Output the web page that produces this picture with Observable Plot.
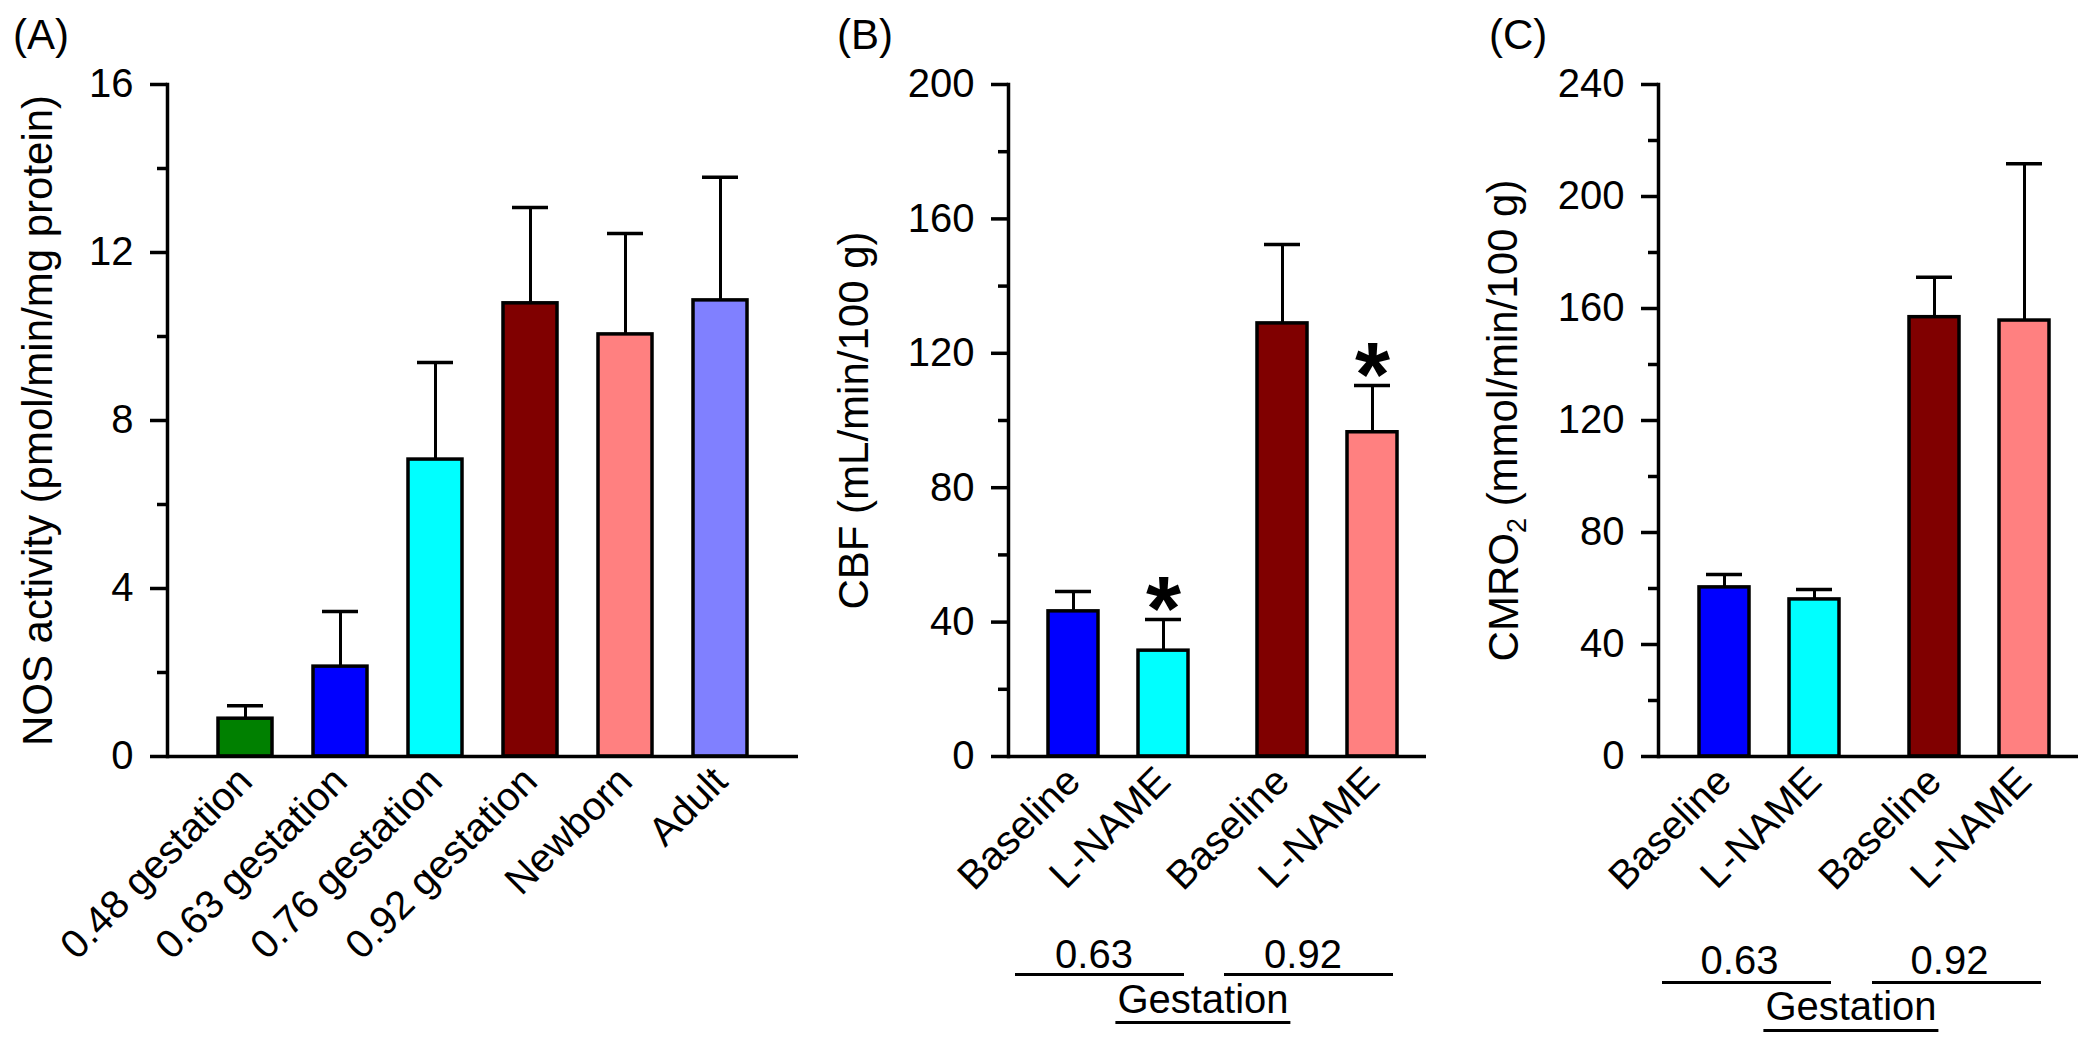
<!DOCTYPE html>
<html><head><meta charset="utf-8">
<script src="https://cdn.jsdelivr.net/npm/d3@7"></script>
<script src="https://cdn.jsdelivr.net/npm/@observablehq/plot@0.6"></script>
<style>
html,body{margin:0;padding:0;background:#fff;}
#root{position:relative;width:2100px;height:1048px;overflow:hidden;font-family:"Liberation Sans",Arial,Helvetica,sans-serif;color:#000;}
.panel{position:absolute;top:0;}
.plabel{position:absolute;font-size:42px;line-height:42px;white-space:nowrap;}
.gest{position:absolute;font-size:40px;line-height:40px;white-space:nowrap;border-bottom:3px solid #000;transform:translateX(-50%);padding:0 2px;}
</style></head>
<body><div id="root"></div>
<script>
// ---------- data ----------
// Panel A
const stagesA = ["0.48 gestation", "0.63 gestation", "0.76 gestation", "0.92 gestation", "Newborn", "Adult"];
const nosMean = [0.90, 2.14, 7.07, 10.79, 10.05, 10.86];
const nosSD   = [0.31, 1.31, 2.31, 2.28, 2.40, 2.93];
const colorsA = ["#008000", "#0000ff", "#00ffff", "#800000", "#ff8080", "#8080ff"];
const yTicksA = [0, 4, 8, 12, 16];
const yMinorA = [2, 6, 10, 14];

// Panels B and C
const conditions = ["Baseline", "L-NAME"];
const gestations = ["0.63", "0.92"];
const colorsBC = ["#0000ff", "#00ffff", "#800000", "#ff8080"];
const cbfMean = [43.2, 31.5, 128.9, 96.5];
const cbfSD   = [5.9, 9.3, 23.5, 13.9];
const cbfSignificant = [false, true, false, true];
const yTicksB = [0, 40, 80, 120, 160, 200];
const yMinorB = [20, 60, 100, 140, 180];
const cmroMean = [60.4, 56.1, 156.9, 155.7];
const cmroSD   = [4.6, 3.5, 14.3, 56.0];
const yTicksC = [0, 40, 80, 120, 160, 200, 240];
const yMinorC = [20, 60, 100, 140, 180, 220];

const FONT = '"Liberation Sans", Arial, Helvetica, sans-serif';
const root = document.getElementById("root");

function place(svg, left) {
  const w = document.createElement("div");
  w.className = "panel";
  w.style.left = left + "px";
  w.appendChild(svg);
  root.appendChild(w);
}
function styleLabel(svg, sub) {
  svg.querySelectorAll('[aria-label="y-axis label"] text').forEach(t => {
    t.setAttribute("font-size", 42);
    const s = t.textContent.replace(/\s*[\u2190-\u2193]\s*/g, "").trim();
    t.textContent = "";
    if (sub) {
      const i = s.indexOf("2");
      const a = document.createElementNS("http://www.w3.org/2000/svg", "tspan");
      a.textContent = s.slice(0, i);
      const b = document.createElementNS("http://www.w3.org/2000/svg", "tspan");
      b.textContent = "2"; b.setAttribute("font-size", 27); b.setAttribute("dy", "0.3em");
      const c = document.createElementNS("http://www.w3.org/2000/svg", "tspan");
      c.textContent = s.slice(i + 1); c.setAttribute("dy", "-0.22em");
      t.append(a, b, c);
    } else {
      t.textContent = s;
    }
  });
}

// ---------- Panel A ----------
const rowsA = stagesA.map((s, i) => ({stage: s, mean: nosMean[i], top: nosMean[i] + nosSD[i], color: colorsA[i]}));
const plotA = Plot.plot({
  width: 830, height: 1048,
  marginLeft: 167, marginRight: 32, marginTop: 84, marginBottom: 292,
  style: {fontFamily: FONT, fontSize: "40px", background: "transparent", overflow: "visible", maxWidth: "none", color: "#000"},
  x: {domain: stagesA, paddingInner: 0.427, paddingOuter: 0.527, axis: null},
  y: {domain: [0, 16], axis: null},
  color: {type: "identity"},
  marks: [
    Plot.ruleX(rowsA, {x: "stage", y1: "mean", y2: "top", strokeWidth: 3}),
    Plot.tickY(rowsA, {x: "stage", y: "top", insetLeft: 9, insetRight: 9, strokeWidth: 3.5}),
    Plot.barY(rowsA, {x: "stage", y: "mean", fill: "color", stroke: "#000", strokeWidth: 3.5}),
    Plot.ruleY([0], {strokeWidth: 3.5}),
    Plot.frame({anchor: "left", strokeWidth: 3.5}),
    Plot.axisY({ticks: yTicksA, tickSize: 17, tickPadding: 17, strokeWidth: 3.5, fontSize: 40,
      label: "NOS activity (pmol/min/mg protein)", labelAnchor: "center", labelOffset: 145, labelArrow: "none"}),
    Plot.axisY({ticks: yMinorA, tickSize: 10, text: null, label: null, strokeWidth: 3.5}),
    Plot.axisX({tickSize: 0, tickRotate: -45, tickPadding: 18, fontSize: 40, label: null})
  ]
});
styleLabel(plotA, false);
place(plotA, 0);

// ---------- Panels B and C ----------
function groupedPanel(o) {
  const rows = o.means.map((m, i) => ({
    gestation: gestations[Math.floor(i / 2)], condition: conditions[i % 2],
    mean: m, top: m + o.sds[i], color: colorsBC[i], star: o.signif ? o.signif[i] : false
  }));
  const svg = Plot.plot({
    width: o.width, height: 1048,
    marginLeft: o.marginLeft, marginRight: o.marginRight, marginTop: 84, marginBottom: 292,
    style: {fontFamily: FONT, fontSize: "40px", background: "transparent", overflow: "visible", maxWidth: "none", color: "#000"},
    fx: {domain: gestations, padding: 0, axis: null},
    x: {domain: conditions, paddingInner: 0.442, paddingOuter: 0.378, align: 0.585, axis: null},
    y: {domain: [0, o.yMax], axis: null},
    color: {type: "identity"},
    marks: [
      Plot.ruleX(rows, {fx: "gestation", x: "condition", y1: "mean", y2: "top", strokeWidth: 3}),
      Plot.tickY(rows, {fx: "gestation", x: "condition", y: "top", insetLeft: 7, insetRight: 7, strokeWidth: 3.5}),
      Plot.barY(rows, {fx: "gestation", x: "condition", y: "mean", fill: "color", stroke: "#000", strokeWidth: 3.5}),
      Plot.text(rows.filter(d => d.star), {fx: "gestation", x: "condition", y: "top", text: () => "*",
        fontSize: 90, fontWeight: "bold", lineAnchor: "middle", dy: -8}),
      Plot.ruleY([0], {strokeWidth: 3.5}),
      Plot.frame({anchor: "left", facetAnchor: "left", strokeWidth: 3.5}),
      Plot.axisY({ticks: o.ticks, tickSize: 17, tickPadding: 17, strokeWidth: 3.5, fontSize: 40,
        label: o.label, labelAnchor: "center", labelOffset: 170, labelArrow: "none"}),
      Plot.axisY({ticks: o.minor, tickSize: 10, text: null, label: null, strokeWidth: 3.5}),
      Plot.axisX({tickSize: 0, tickRotate: -45, tickPadding: 18, fontSize: 40, label: null}),
      Plot.text(gestations, {fx: d => d, text: d => d, frameAnchor: "bottom", lineAnchor: "bottom",
        dy: o.groupDy, dx: o.groupDx, fontSize: 40}),
      Plot.frame({anchor: "bottom", insetBottom: -o.lineDy, insetLeft: o.lineLeft, insetRight: o.lineRight, strokeWidth: 3})
    ]
  });
  styleLabel(svg, o.sub);
  return svg;
}

const plotB = groupedPanel({
  means: cbfMean, sds: cbfSD, signif: cbfSignificant, yMax: 200, ticks: yTicksB, minor: yMinorB,
  label: "CBF (mL/min/100 g)", width: 650, marginLeft: 177, marginRight: 54,
  groupDy: 211, groupDx: -19, lineDy: 218, lineLeft: 8, lineRight: 35, sub: false
});
place(plotB, 830);

const plotC = groupedPanel({
  means: cmroMean, sds: cmroSD, signif: null, yMax: 240, ticks: yTicksC, minor: yMinorC,
  label: "CMRO2 (mmol/min/100 g)", width: 620, marginLeft: 178, marginRight: 22,
  groupDy: 217, groupDx: -24, lineDy: 226, lineLeft: 5, lineRight: 39, sub: true
});
place(plotC, 1480);

// ---------- panel letters and shared group title ----------
function addDiv(cls, text, left, top, extra) {
  const d = document.createElement("div");
  d.className = cls; d.textContent = text;
  d.style.left = left + "px"; d.style.top = top + "px";
  if (extra) Object.assign(d.style, extra);
  root.appendChild(d);
}
addDiv("plabel", "(A)", 13, 14);
addDiv("plabel", "(B)", 837, 14);
addDiv("plabel", "(C)", 1489, 14);
addDiv("gest", "Gestation", 1203, 979, {paddingBottom: "1.5px"});
addDiv("gest", "Gestation", 1851, 986, {paddingBottom: "2.5px"});
</script>
</body></html>
